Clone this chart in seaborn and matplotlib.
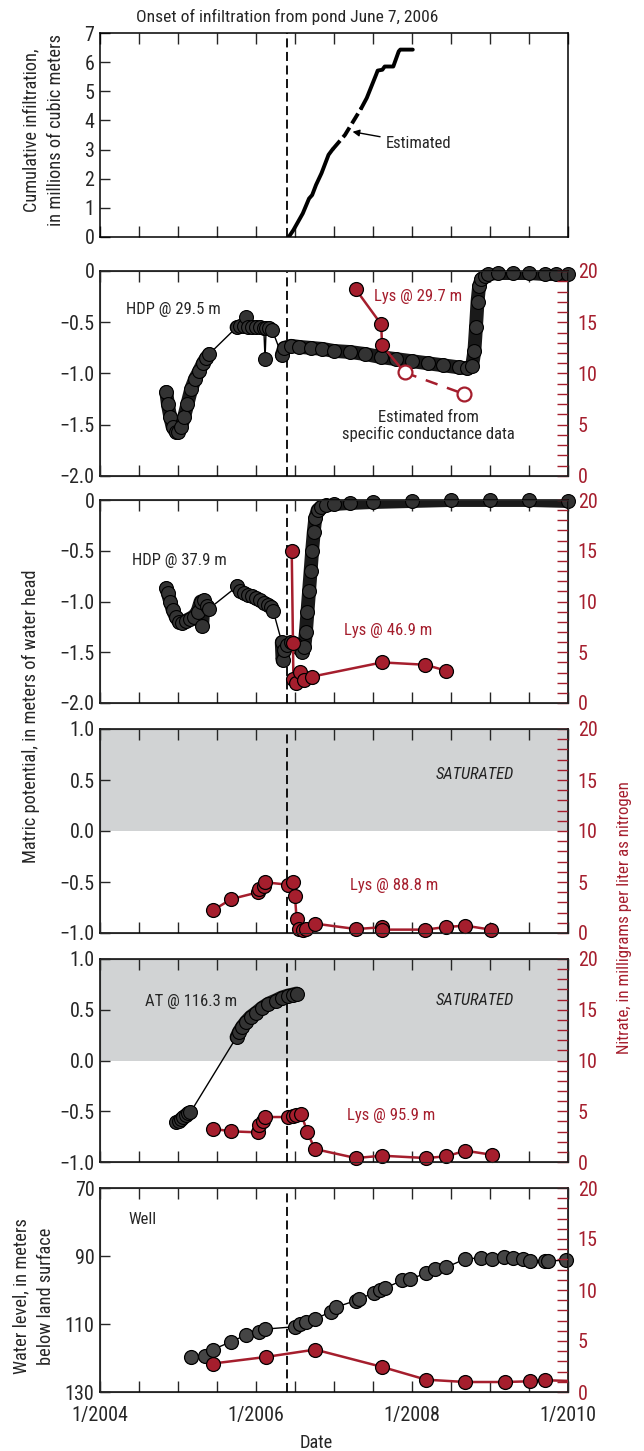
import matplotlib
matplotlib.use('Agg')
import matplotlib.pyplot as plt
from matplotlib import font_manager
import seaborn as sns

# ---- data (dates as decimal years) ----
onset = 2006.40  # June 7, 2006 (as drawn)

# cumulative infiltration, millions of m3
infil_date_a = [2006.42, 2006.48, 2006.60, 2006.68, 2006.72, 2006.77, 2006.84, 2006.93, 2006.98]
infil_val_a = [0.0, 0.24, 0.81, 1.32, 1.44, 1.79, 2.19, 2.82, 3.0]
infil_date_est = [2006.98, 2007.14, 2007.35]
infil_val_est = [3.0, 3.5, 4.42]
infil_date_b = [2007.35, 2007.42, 2007.48, 2007.54, 2007.56, 2007.62, 2007.65, 2007.76, 2007.83, 2007.85, 2008.01]
infil_val_b = [4.42, 4.77, 5.17, 5.57, 5.71, 5.74, 5.85, 5.85, 6.37, 6.43, 6.43]

# HDP @ 29.5 m, matric potential (m)
hdp29_date_1 = [2004.85, 2004.87, 2004.90, 2004.93, 2004.97, 2005.00, 2005.04, 2005.08, 2005.12,
                2005.17, 2005.22, 2005.27, 2005.32, 2005.36, 2005.40]
hdp29_val_1 = [-1.18, -1.30, -1.42, -1.52, -1.57, -1.57, -1.52, -1.42, -1.30,
               -1.15, -1.05, -0.98, -0.90, -0.85, -0.81]
hdp29_date_2 = [2005.75, 2005.80, 2005.85]
hdp29_val_2 = [-0.55, -0.54, -0.54]
hdp29_date_3 = [2005.87]
hdp29_val_3 = [-0.45]
hdp29_date_4 = [2005.90, 2005.95, 2006.00, 2006.05, 2006.10]
hdp29_val_4 = [-0.55, -0.55, -0.55, -0.55, -0.56]
hdp29_date_5 = [2006.116]
hdp29_val_5 = [-0.86]
hdp29_date_6 = [2006.13, 2006.17, 2006.21]
hdp29_val_6 = [-0.56, -0.56, -0.58]
hdp29_date_7 = [2006.33, 2006.36, 2006.45, 2006.55, 2006.70, 2006.85, 2007.00, 2007.20, 2007.40,
                2007.60, 2007.80, 2008.00, 2008.20, 2008.40, 2008.60, 2008.70, 2008.77, 2008.80,
                2008.82, 2008.84, 2008.86, 2008.89, 2008.93, 2008.98, 2009.10, 2009.30, 2009.50,
                2009.70, 2009.85, 2010.00]
hdp29_val_7 = [-0.82, -0.75, -0.73, -0.74, -0.75, -0.76, -0.78, -0.79, -0.81,
               -0.84, -0.86, -0.88, -0.90, -0.92, -0.94, -0.95, -0.93, -0.78,
               -0.55, -0.30, -0.15, -0.08, -0.05, -0.03, -0.02, -0.02, -0.02,
               -0.03, -0.03, -0.03]

# HDP @ 37.9 m
hdp38_date_1 = [2004.85, 2004.87, 2004.90, 2004.93, 2004.97, 2005.01, 2005.05, 2005.10, 2005.15,
                2005.20, 2005.25, 2005.29, 2005.31, 2005.33, 2005.37, 2005.40]
hdp38_val_1 = [-0.87, -0.92, -1.00, -1.08, -1.15, -1.20, -1.21, -1.19, -1.17,
               -1.15, -1.10, -1.00, -1.24, -0.99, -1.04, -1.07]
hdp38_date_2 = [2005.76, 2005.80, 2005.85, 2005.90, 2005.95, 2006.00, 2006.05, 2006.10, 2006.15,
                2006.19, 2006.22]
hdp38_val_2 = [-0.85, -0.90, -0.92, -0.94, -0.95, -0.97, -0.99, -1.01, -1.03, -1.05, -1.09]
hdp38_date_3 = [2006.33, 2006.34, 2006.36, 2006.40, 2006.45, 2006.50, 2006.55, 2006.59, 2006.62,
                2006.64, 2006.66, 2006.68, 2006.70, 2006.72, 2006.74, 2006.76, 2006.79, 2006.83,
                2006.90, 2007.00, 2007.20, 2007.50, 2008.00, 2008.50, 2009.00, 2009.50, 2010.00]
hdp38_val_3 = [-1.40, -1.58, -1.48, -1.43, -1.40, -1.42, -1.46, -1.50, -1.45,
               -1.30, -1.10, -0.90, -0.70, -0.50, -0.32, -0.18, -0.10, -0.07,
               -0.05, -0.04, -0.03, -0.02, -0.01, 0.0, 0.0, 0.0, -0.01]

# AT @ 116.3 m
at_date_1 = [2004.98, 2005.01, 2005.04, 2005.07, 2005.10, 2005.13, 2005.16]
at_val_1 = [-0.61, -0.60, -0.58, -0.56, -0.54, -0.52, -0.51]
at_date_2 = [2005.75, 2005.78, 2005.82, 2005.87, 2005.93, 2006.00, 2006.08, 2006.16, 2006.25,
             2006.33, 2006.41, 2006.47, 2006.52]
at_val_2 = [0.23, 0.28, 0.33, 0.38, 0.43, 0.47, 0.52, 0.56, 0.59, 0.62, 0.64, 0.65, 0.66]

# well water level, m below land surface
well_date = [2005.17, 2005.34, 2005.45, 2005.68, 2005.87, 2006.04, 2006.12, 2006.50, 2006.56,
             2006.64, 2006.76, 2006.96, 2007.02, 2007.28, 2007.32, 2007.51, 2007.59, 2007.65,
             2007.87, 2007.98, 2008.18, 2008.29, 2008.44, 2008.68, 2008.89, 2009.02, 2009.18,
             2009.29, 2009.42, 2009.51, 2009.71, 2009.74, 2009.97]
well_level = [119.7, 119.4, 117.5, 115.2, 113.3, 112.3, 111.5, 110.8, 110.0,
              109.3, 108.5, 106.4, 105.1, 103.1, 102.5, 101.0, 100.0, 99.5,
              97.2, 96.7, 95.1, 93.9, 93.3, 90.9, 90.5, 90.8, 90.2,
              90.5, 90.9, 91.4, 91.6, 91.4, 91.3]

# nitrate, mg/L as N
lys29_date = [2007.28, 2007.605, 2007.616]
lys29_no3 = [18.2, 14.8, 12.75]
lys29_est_date = [2007.905, 2008.668]
lys29_est_no3 = [10.1, 8.0]

lys47_date = [2006.458, 2006.474, 2006.479, 2006.51, 2006.56, 2006.62, 2006.72, 2007.616, 2008.168, 2008.44]
lys47_no3 = [15.0, 5.9, 2.4, 2.0, 3.1, 2.3, 2.6, 4.0, 3.77, 3.18]

lys89_date = [2005.447, 2005.684, 2006.026, 2006.037, 2006.105, 2006.116, 2006.405, 2006.474, 2006.50,
              2006.52, 2006.55, 2006.605, 2006.64, 2006.757, 2007.28, 2007.616, 2007.62, 2008.168,
              2008.44, 2008.684, 2009.01]
lys89_no3 = [2.22, 3.33, 3.99, 4.35, 4.58, 4.97, 4.74, 4.97, 3.6,
             1.4, 0.39, 0.33, 0.39, 0.92, 0.39, 0.56, 0.33, 0.33,
             0.59, 0.72, 0.33]

lys96_date = [2005.447, 2005.68, 2006.026, 2006.037, 2006.09, 2006.116, 2006.405, 2006.468, 2006.51,
              2006.58, 2006.658, 2006.753, 2007.28, 2007.616, 2008.18, 2008.44, 2008.684, 2009.02]
lys96_no3 = [3.28, 3.02, 2.92, 3.67, 4.07, 4.43, 4.43, 4.49, 4.66,
             4.72, 2.95, 1.28, 0.39, 0.62, 0.39, 0.56, 1.11, 0.72]

well_no3_date = [2005.447, 2006.132, 2006.758, 2007.616, 2008.18, 2008.684, 2009.195, 2009.51, 2009.71, 2010.2]
well_no3 = [2.79, 3.44, 4.16, 2.46, 1.21, 0.98, 0.98, 1.05, 1.15, 1.05]

year_ticks = [2004, 2006, 2008, 2010]
year_labels = ['1/2004', '1/2006', '1/2008', '1/2010']
half_years = [2004.5, 2005, 2005.5, 2006.5, 2007, 2007.5, 2008.5, 2009, 2009.5]

RED = '#a51e2d'
BAND = '#1a1a1a'
GREY = '#333333'
WELL_GREY = '#454545'
SAT = '#d1d3d4'

sns.set_style('ticks')

# a narrow face is closest to the original; fall back to plain DejaVu Sans
family, stretch, k = 'DejaVu Sans', 'normal', 1.0
fonts = font_manager.fontManager.ttflist
if any(f.name == 'Liberation Sans Narrow' for f in fonts):
    family, k = 'Liberation Sans Narrow', 1.2
else:
    for fam in ['Roboto Condensed', 'Open Sans Condensed', 'Noto Sans Condensed', 'DejaVu Sans Condensed']:
        if any(f.name == fam for f in fonts):
            family, k = fam, 1.2
            break
    else:
        for fam in ['Noto Sans', 'Roboto', 'Open Sans', 'DejaVu Sans']:
            if any(f.name == fam and 'condensed' in str(f.stretch) for f in fonts):
                family, stretch, k = fam, 'condensed', 1.2
                break
plt.rcParams['font.family'] = [family, 'DejaVu Sans']
plt.rcParams['font.stretch'] = stretch

TICK = 12 * k
NOTE = 10 * k
LABEL = 11 * k

fig = plt.figure(figsize=(6.44, 14.51), dpi=100)


def add_panel(top, bottom):
    return fig.add_axes([100 / 644, 1 - bottom / 1451, 468 / 644, (bottom - top) / 1451])


def style_panel(ax, last=False):
    ax.set_xlim(2004, 2010)
    ax.set_xticks(year_ticks)
    ax.set_xticklabels(year_labels if last else [])
    ax.set_xticks(half_years, minor=True)
    ax.tick_params(axis='x', which='both', direction='in', length=8, width=1, top=True,
                   labelbottom=last, pad=10, labelsize=TICK)
    ax.tick_params(axis='y', direction='in', length=7, width=1, pad=4, labelsize=TICK)
    for s in ax.spines.values():
        s.set_visible(True)
        s.set_linewidth(1.1)
        s.set_color('black')
    ax.axvline(onset, color='black', lw=1.3, ls=(0, (5, 2.5)), zorder=1)


def nitrate_axis(ax):
    ax2 = ax.twinx()
    ax2.set_ylim(0, 20)
    ax2.set_yticks([0, 5, 10, 15, 20])
    ax2.set_yticks(range(21), minor=True)
    ax2.tick_params(axis='y', which='both', direction='in', length=8, width=1, color=RED,
                    labelcolor=RED, pad=7, labelsize=TICK)
    ax2.set_ylabel('')
    return ax2


def trace(ax, segs):
    all_d = [d for seg in segs for d in seg[0]]
    all_v = [v for seg in segs for v in seg[1]]
    sns.lineplot(x=all_d, y=all_v, ax=ax, color='black', lw=1, estimator=None, sort=False)
    for d, v in segs:
        if len(d) > 1:
            sns.lineplot(x=d, y=v, ax=ax, color=BAND, lw=10, solid_capstyle='round',
                         estimator=None, sort=False)
    sns.lineplot(x=all_d, y=all_v, ax=ax, ls='none', marker='o', ms=10, mfc=GREY,
                 mec='black', mew=0.8, estimator=None, sort=False, clip_on=False)


def lys(ax2, d, v, clip=False):
    sns.lineplot(x=d, y=v, ax=ax2, color=RED, lw=1.8, marker='o', ms=10, mfc=RED,
                 mec='black', mew=0.9, estimator=None, sort=False, clip_on=clip)


# ---- panel 1: cumulative infiltration ----
ax = add_panel(33, 237)
style_panel(ax)
ax.set_ylim(0, 7)
ax.set_yticks(range(8))
sns.lineplot(x=infil_date_a, y=infil_val_a, ax=ax, color='black', lw=2.8, estimator=None, sort=False)
sns.lineplot(x=infil_date_est, y=infil_val_est, ax=ax, color='black', lw=2.8, ls=(0, (3, 1.2)),
             estimator=None, sort=False)
sns.lineplot(x=infil_date_b, y=infil_val_b, ax=ax, color='black', lw=2.8, estimator=None, sort=False)
ax.annotate('Estimated', xy=(2007.22, 3.62), xytext=(2007.668, 3.2), ha='left', va='center',
            fontsize=NOTE, arrowprops=dict(arrowstyle='-|>', color='black', lw=1, shrinkA=2, shrinkB=1,
                                           mutation_scale=10))

# ---- panel 2: HDP @ 29.5 m ----
ax = add_panel(271, 476)
style_panel(ax)
ax.set_ylim(-2, 0)
ax.set_yticks([-2, -1.5, -1, -0.5, 0])
ax.set_yticklabels(['\u22122.0', '\u22121.5', '\u22121.0', '\u22120.5', '0'])
trace(ax, [(hdp29_date_1, hdp29_val_1), (hdp29_date_2, hdp29_val_2), (hdp29_date_3, hdp29_val_3),
           (hdp29_date_4, hdp29_val_4), (hdp29_date_5, hdp29_val_5), (hdp29_date_6, hdp29_val_6),
           (hdp29_date_7, hdp29_val_7)])
ax.text(2004.33, -0.38, 'HDP @ 29.5 m', va='center', fontsize=NOTE)
ax.text(2008.21, -1.51, 'Estimated from\nspecific conductance data', ha='center', va='center',
        fontsize=NOTE, linespacing=1.05)
ax2 = nitrate_axis(ax)
sns.lineplot(x=lys29_date + lys29_est_date[:1], y=lys29_no3 + lys29_est_no3[:1], ax=ax2, color=RED,
             lw=1.8, estimator=None, sort=False)
sns.lineplot(x=lys29_est_date, y=lys29_est_no3, ax=ax2, color=RED, lw=1.8, ls=(0, (5, 4)),
             marker='o', ms=10, mfc='white', mec=RED, mew=1.6, estimator=None, sort=False)
sns.lineplot(x=lys29_date, y=lys29_no3, ax=ax2, ls='none', marker='o', ms=10, mfc=RED,
             mec='black', mew=0.9, estimator=None, sort=False)
ax2.text(2007.51, 17.56, 'Lys @ 29.7 m', color=RED, va='center', fontsize=NOTE)

# ---- panel 3: HDP @ 37.9 m ----
ax = add_panel(500, 703)
style_panel(ax)
ax.set_ylim(-2, 0)
ax.set_yticks([-2, -1.5, -1, -0.5, 0])
ax.set_yticklabels(['\u22122.0', '\u22121.5', '\u22121.0', '\u22120.5', '0'])
trace(ax, [(hdp38_date_1, hdp38_val_1), (hdp38_date_2, hdp38_val_2), (hdp38_date_3, hdp38_val_3)])
ax.text(2004.405, -0.6, 'HDP @ 37.9 m', va='center', fontsize=NOTE)
ax2 = nitrate_axis(ax)
lys(ax2, lys47_date, lys47_no3)
ax2.text(2007.13, 7.15, 'Lys @ 46.9 m', color=RED, va='center', fontsize=NOTE)

# ---- panel 4: Lys @ 88.8 m ----
ax = add_panel(729, 933)
style_panel(ax)
ax.set_ylim(-1, 1)
ax.set_yticks([-1, -0.5, 0, 0.5, 1])
ax.set_yticklabels(['\u22121.0', '\u22120.5', '0.0', '0.5', '1.0'])
ax.axhspan(0, 1, color=SAT, lw=0, zorder=0)
ax.text(2008.8, 0.55, 'SATURATED', ha='center', va='center', style='italic', fontsize=NOTE, color='#222222')
ax2 = nitrate_axis(ax)
lys(ax2, lys89_date, lys89_no3)
ax2.text(2007.205, 4.64, 'Lys @ 88.8 m', color=RED, va='center', fontsize=NOTE)

# ---- panel 5: AT @ 116.3 m ----
ax = add_panel(959, 1162)
style_panel(ax)
ax.set_ylim(-1, 1)
ax.set_yticks([-1, -0.5, 0, 0.5, 1])
ax.set_yticklabels(['\u22121.0', '\u22120.5', '0.0', '0.5', '1.0'])
ax.axhspan(0, 1, color=SAT, lw=0, zorder=0)
trace(ax, [(at_date_1, at_val_1), (at_date_2, at_val_2)])
ax.text(2004.574, 0.58, 'AT @ 116.3 m', va='center', fontsize=NOTE)
ax.text(2008.8, 0.59, 'SATURATED', ha='center', va='center', style='italic', fontsize=NOTE, color='#222222')
ax2 = nitrate_axis(ax)
lys(ax2, lys96_date, lys96_no3)
ax2.text(2007.168, 4.59, 'Lys @ 95.9 m', color=RED, va='center', fontsize=NOTE)

# ---- panel 6: well ----
ax = add_panel(1188, 1392)
style_panel(ax, last=True)
ax.set_ylim(130, 70)
ax.set_yticks([70, 90, 110, 130])
sns.lineplot(x=well_date, y=well_level, ax=ax, color='black', lw=1, marker='o', ms=10, mfc=WELL_GREY,
             mec='black', mew=0.9, estimator=None, sort=False, clip_on=False)
ax.text(2004.368, 79.3, 'Well', va='center', fontsize=NOTE)
ax2 = nitrate_axis(ax)
lys(ax2, well_no3_date, well_no3, clip=True)

# ---- shared labels ----
fig.text(287 / 644, 1 - 17 / 1451, 'Onset of infiltration from pond June 7, 2006', ha='center',
         va='center', fontsize=10.5 * k)
fig.text(44 / 644, 1 - 130 / 1451, 'Cumulative infiltration,\nin millions of cubic meters', rotation=90,
         ha='center', va='center', fontsize=LABEL, linespacing=1.45)
fig.text(31 / 644, 1 - 716 / 1451, 'Matric potential, in meters of water head', rotation=90,
         ha='center', va='center', fontsize=LABEL)
fig.text(625 / 644, 1 - 918 / 1451, 'Nitrate, in milligrams per liter as nitrogen', rotation=90,
         ha='center', va='center', fontsize=LABEL * 0.92, color=RED)
fig.text(34 / 644, 1 - 1296 / 1451, 'Water level, in meters\nbelow land surface', rotation=90,
         ha='center', va='center', fontsize=LABEL, linespacing=1.45)
fig.text(316 / 644, 1 - 1443 / 1451, 'Date', ha='center', va='center', fontsize=LABEL)

fig.savefig('out.png', dpi=100)
